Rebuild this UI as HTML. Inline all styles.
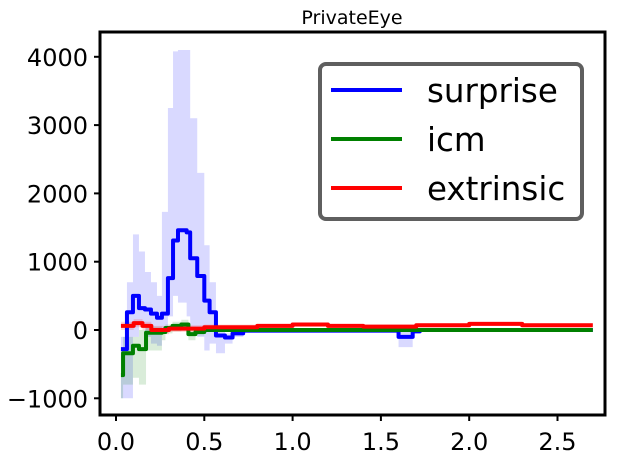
<!DOCTYPE html>
<html><head><meta charset="utf-8"><style>
body{margin:0;background:#fff}
svg{display:block;font-family:"DejaVu Sans","Liberation Sans",sans-serif}
</style></head><body>
<svg id="chart" width="618" height="462" viewBox="0 0 618 462">
<rect width="618" height="462" fill="#fff"/>
<text x="352" y="24" font-size="19" text-anchor="middle">PrivateEye</text>
<g id="bands"></g><g id="lines"></g>
<rect x="100" y="32" width="505" height="383" fill="none" stroke="#000" stroke-width="3"/>
<g id="ticks"></g>
<g>
<rect x="320" y="64" width="262" height="155" rx="6" fill="#fff" fill-opacity="0.85" stroke="#5f5f5f" stroke-width="4"/>
<line x1="331" y1="90" x2="402" y2="90" stroke="#0000ff" stroke-width="4"/>
<text x="427" y="102" font-size="32.5">surprise</text>
<line x1="331" y1="139" x2="402" y2="139" stroke="#008000" stroke-width="4"/>
<text x="427" y="151" font-size="32.5">icm</text>
<line x1="331" y1="188" x2="402" y2="188" stroke="#ff0000" stroke-width="4"/>
<text x="427" y="200" font-size="32.5">extrinsic</text>
</g>
</svg>
<script>
const xTicks=[0,0.5,1.0,1.5,2.0,2.5];
const xTickLabels=["0.0","0.5","1.0","1.5","2.0","2.5"];
const yTicks=[-1000,0,1000,2000,3000,4000];
const yTickLabels=["\u22121000","0","1000","2000","3000","4000"];
const surpriseT=[0.028,0.062,0.096,0.13,0.164,0.198,0.232,0.26,0.294,0.323,0.351,0.40,0.42,0.46,0.50,0.53,0.566,0.617,0.66,0.72,1.6,1.68,1.72,2.7];
const surpriseV=[-280,260,500,320,300,240,180,240,760,1310,1460,1430,1050,790,430,260,-80,-110,-50,-10,-100,-20,0,0];
const surpriseHi=[-100,700,1400,1150,850,700,500,1730,3250,4080,4100,4100,3100,2300,1240,700,0,-50,0,20,-20,0,20,20];
const surpriseLo=[-1000,-1000,-100,100,-100,-200,-230,0,200,500,400,200,0,-100,-300,-200,-340,-200,-100,-40,-250,-50,-20,-20];
const icmT=[0.028,0.04,0.096,0.13,0.17,0.26,0.28,0.32,0.37,0.41,0.45,0.5,2.7];
const icmV=[-660,-340,-230,-280,-40,-30,30,60,80,-60,-30,0,0];
const icmHi=[-300,-100,-100,0,50,30,80,120,150,50,20,10,10];
const icmLo=[-1000,-800,-700,-800,-300,-150,-50,-20,0,-150,-80,-10,-10];
const extT=[0.028,0.1,0.15,0.2,0.3,0.5,0.8,1.0,1.2,1.4,1.7,2.0,2.3,2.7];
const extV=[60,100,60,0,20,40,60,80,60,50,70,90,70,70];
const extHi=[120,160,120,60,70,80,90,110,90,80,100,120,100,100];
const extLo=[0,40,0,-60,-30,0,30,50,30,20,40,60,40,40];
const xs=t=>116+t*176.6;
const ys=v=>330-v*0.0683;
const NS="http://www.w3.org/2000/svg";
function stepPts(T,V){let p=[];for(let i=0;i<T.length;i++){if(i>0)p.push([xs(T[i]),ys(V[i-1])]);p.push([xs(T[i]),ys(V[i])]);}return p;}
function band(T,H,L,col,name){const up=stepPts(T,H),lo=stepPts(T,L).reverse();const el=document.createElementNS(NS,"polygon");
el.setAttribute("points",up.concat(lo).map(p=>p.join(",")).join(" "));el.setAttribute("fill",col);el.setAttribute("fill-opacity","0.15");


document.getElementById("bands").appendChild(el);}
function line(T,V,col,name){const el=document.createElementNS(NS,"polyline");
el.setAttribute("points",stepPts(T,V).map(p=>p.join(",")).join(" "));el.setAttribute("fill","none");el.setAttribute("stroke",col);el.setAttribute("stroke-width","4");el.setAttribute("stroke-linejoin","round");


document.getElementById("lines").appendChild(el);}
band(surpriseT,surpriseHi,surpriseLo,"#0000ff","surprise-band");
band(icmT,icmHi,icmLo,"#008000","icm-band");
band(extT,extHi,extLo,"#ff0000","extrinsic-band");
line(surpriseT,surpriseV,"#0000ff","surprise-line");
line(icmT,icmV,"#008000","icm-line");
line(extT,extV,"#ff0000","extrinsic-line");
const tg=document.getElementById("ticks");
xTicks.forEach((t,i)=>{const x=xs(t);
const l=document.createElementNS(NS,"line");l.setAttribute("x1",x);l.setAttribute("x2",x);l.setAttribute("y1",415);l.setAttribute("y2",421);l.setAttribute("stroke","#000");l.setAttribute("stroke-width","2");


tg.appendChild(l);
const tx=document.createElementNS(NS,"text");tx.setAttribute("x",x);tx.setAttribute("y",450);tx.setAttribute("font-size","24");tx.setAttribute("text-anchor","middle");tx.textContent=xTickLabels[i];


tg.appendChild(tx);});
yTicks.forEach((v,i)=>{const y=ys(v);
const l=document.createElementNS(NS,"line");l.setAttribute("x1",94);l.setAttribute("x2",100);l.setAttribute("y1",y);l.setAttribute("y2",y);l.setAttribute("stroke","#000");l.setAttribute("stroke-width","2");


tg.appendChild(l);
const tx=document.createElementNS(NS,"text");tx.setAttribute("x",88);tx.setAttribute("y",y+9);tx.setAttribute("font-size","24");tx.setAttribute("text-anchor","end");tx.textContent=yTickLabels[i];


tg.appendChild(tx);});
</script>
</body></html>
